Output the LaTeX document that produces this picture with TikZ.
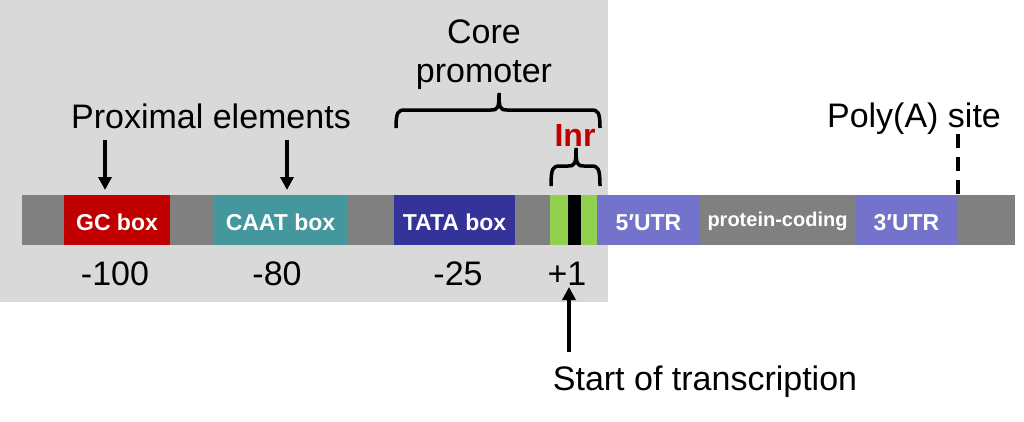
\documentclass[tikz,border=0pt]{standalone}
\usepackage{fontspec}
\setmainfont{Liberation Sans}
\usetikzlibrary{arrows.meta}

\definecolor{bggray}{HTML}{D9D9D9}
\definecolor{dnagray}{HTML}{808080}
\definecolor{gcred}{HTML}{C00000}
\definecolor{caatteal}{HTML}{45979E}
\definecolor{tatablue}{HTML}{333399}
\definecolor{inrgreen}{HTML}{92D050}
\definecolor{utrblue}{HTML}{7373CC}

\tikzset{
    seg/.style={anchor=west, minimum height=50pt, inner sep=0pt, outer sep=0pt},
    boxlbl/.style={anchor=base, text=white, font=\bfseries\fontsize{23}{23}\selectfont, inner sep=0pt},
    lbl/.style={anchor=base, font=\fontsize{34}{39}\selectfont, inner sep=0pt},
    pointer/.style={->, line width=3.5pt},
    bracket/.style={line width=3.5pt}
}

% graffa: sinistra, centro, destra, y estremi, y linea, y punta
\newcommand{\curlybrace}[6]{
    \draw[bracket] (#1,#4) .. controls (#1,#5+2) and (#1+2,#5) .. (#1+9,#5)
        -- (#2-8,#5) .. controls (#2-1,#5) and (#2,#5-2) .. (#2,#6)
        .. controls (#2,#5-2) and (#2+1,#5) .. (#2+8,#5)
        -- (#3-9,#5) .. controls (#3-2,#5) and (#3,#5+2) .. (#3,#4);
}

\begin{document}
\begin{tikzpicture}[x=1pt, y=-1pt, >={Triangle[length=13pt,width=13pt]}]
    \useasboundingbox (0,0) rectangle (1024,421);

    % Sfondo promotore
    \fill[bggray] (0,0) rectangle (608,302);

    % Filamento di DNA
    \fill[dnagray] (22,195) rectangle (1015,245);

    % Elementi
    \node[seg, fill=gcred, minimum width=106pt] (gc) at (64,220) {};
    \node[seg, fill=caatteal, minimum width=135pt] (caat) at (213,220) {};
    \node[seg, fill=tatablue, minimum width=121pt] (tata) at (394,220) {};
    \node[seg, fill=inrgreen, minimum width=47pt] (inr) at (550,220) {};
    \node[seg, fill=black, minimum width=13pt] (tss) at (568,220) {};
    \node[seg, fill=utrblue, minimum width=103pt] (utr5) at (597,220) {};
    \node[seg, minimum width=155pt] (cds) at (700,220) {};
    \node[seg, fill=utrblue, minimum width=103pt] (utr3) at (855,220) {};

    % Scritte nei box
    \node[boxlbl] (gclbl) at (gc.center |- 0,230) {GC box};
    \node[boxlbl] (caatlbl) at (caat.center |- 0,230) {CAAT box};
    \node[boxlbl] (tatalbl) at (tata.center |- 0,230) {TATA box};
    \node[boxlbl] (utr5lbl) at (utr5.center |- 0,230) {5′UTR};
    \node[boxlbl, font=\bfseries\fontsize{20}{20}\selectfont] (cdslbl) at (cds.center |- 0,226) {protein-coding};
    \node[boxlbl] (utr3lbl) at (utr3.center |- 0,230) {3′UTR};

    % Posizioni
    \node[lbl] (p100) at (115,285) {-100};
    \node[lbl] (p80) at (277,285) {-80};
    \node[lbl] (p25) at (458,285) {-25};
    \node[lbl] (p1) at (567,285) {+1};

    % Etichette sopra
    \node[lbl] (prox) at (211,128) {Proximal elements};
    \node[lbl, anchor=north, align=center] (core) at (484,20) {Core\\promoter};
    \node[lbl, text=gcred, font=\bfseries\fontsize{32}{32}\selectfont] (inrlbl) at (575,146) {Inr};
    \node[lbl] (polya) at (914,127) {Poly(A) site};
    \node[lbl] (start) at (705,390) {Start of transcription};

    % Frecce
    \coordinate (pa) at (105,140);
    \coordinate (pb) at (287,140);
    \coordinate (ps) at (569,352);
    \draw[pointer, shorten >=5pt] (pa) -- (pa |- gc.north);
    \draw[pointer, shorten >=5pt] (pb) -- (pb |- caat.north);
    \draw[pointer] (ps) -- (ps |- 0,287);

    % Graffe
    \curlybrace{396}{499}{600}{128}{110}{93}
    \curlybrace{551}{576}{600}{186}{166}{148}

    % Sito poli(A)
    \coordinate (pas) at (958,134);
    \draw[line width=3.5pt, dash pattern=on 14pt off 9pt] (pas) -- (pas |- utr3.north);
\end{tikzpicture}
\end{document}
